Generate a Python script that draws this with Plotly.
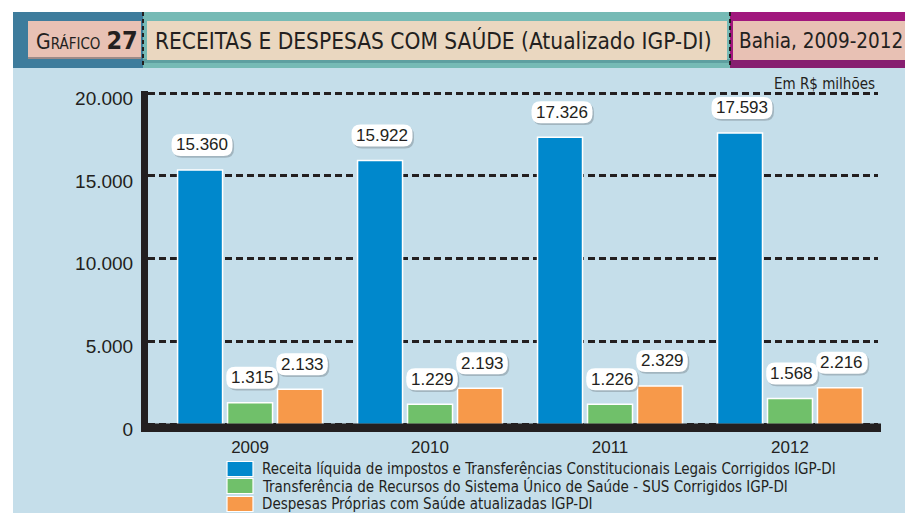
import plotly.graph_objects as go

years = ["2009", "2010", "2011", "2012"]
receita = [15360, 15922, 17326, 17593]
transferencia = [1315, 1229, 1226, 1568]
despesas = [2133, 2193, 2329, 2216]
series_names = [
    "Receita líquida de impostos e Transferências Constitucionais Legais Corrigidos IGP-DI",
    "Transferência de Recursos do Sistema Único de Saúde - SUS Corrigidos IGP-DI",
    "Despesas Próprias com Saúde atualizadas IGP-DI",
]
colors = ["#0088CC", "#70C06A", "#F7994A"]
y_ticks = [0, 5000, 10000, 15000, 20000]
y_ticktext = ["0", "5.000", "10.000", "15.000", "20.000"]

COND = "Liberation Sans Narrow, DejaVu Sans Condensed, Arial Narrow, sans-serif"
SANS = "Liberation Sans, Arial, sans-serif"
INK = "#231F20"

# page offset (browser body margin) and plot-area frame in screen pixels
OFF = 8
FW, FH = 913 - OFF, 513 - OFF
L, R, T, B = 148, 878, 91, 432
W, H = R - L, B - T
def px(x): return (x - L) / W
def py(y): return (B - y) / H

def fmt(v):
    return f"{v:,}".replace(",", ".")

def pill(x0, y0, x1, y1, r):
    return (f"M{x0+r},{y0} L{x1-r},{y0} Q{x1},{y0} {x1},{y0+r} L{x1},{y1-r} Q{x1},{y1} {x1-r},{y1} "
            f"L{x0+r},{y1} Q{x0},{y1} {x0},{y1-r} L{x0},{y0+r} Q{x0},{y0} {x0+r},{y0} Z")

fig = go.Figure()
for name, vals, col in zip(series_names, [receita, transferencia, despesas], colors):
    fig.add_trace(go.Bar(x=years, y=vals, name=name,
                         marker=dict(color=col, line=dict(color="white", width=1.5)),
                         showlegend=False, hoverinfo="y"))

annotations = []
shapes = []
shifts = [-50, 0, 50]
LBL_Y = 25
for vals, sh in zip([receita, transferencia, despesas], shifts):
    for i, v in enumerate(vals):
        t = fmt(v)
        w = 9.45 * sum(c.isdigit() for c in t) + 4.7 * t.count(".") + 9
        cx = sh + 2
        for dx, dy, fc in ((1.5, -1.8, "rgba(120,130,140,0.45)"), (0, 0, "white")):
            shapes.append(dict(type="path", xref="x", yref="y", xsizemode="pixel", ysizemode="pixel",
                               xanchor=i, yanchor=v,
                               path=pill(cx - w / 2 + dx, LBL_Y - 11 + dy, cx + w / 2 + dx, LBL_Y + 11 + dy, 9),
                               fillcolor=fc, line=dict(width=0), layer="above"))
        annotations.append(dict(x=i, y=v, xref="x", yref="y", text=t, showarrow=False,
                                xshift=cx, yshift=LBL_Y, yanchor="middle",
                                font=dict(family=SANS, size=17, color=INK)))

def rect(x0, y0, x1, y1, color, layer="below"):
    shapes.append(dict(type="rect", xref="paper", yref="paper", x0=px(x0), x1=px(x1), y0=py(y1), y1=py(y0),
                       fillcolor=color, line=dict(width=0), layer=layer))

# background panel and header
rect(13, 68, 913, 513, "#C5DEEA")
rect(13, 12, 143, 68, "#3E7C9C")
rect(143, 12, 730, 68, "#76BAB5")
rect(143, 59, 730, 63, "#5E9FA0")
rect(730, 12, 913, 68, "#A1177D")
rect(730, 60, 913, 68, "#861E70")
rect(28, 21, 141, 58, "#E8C1B4")
rect(28, 57, 141, 59, "#9C8A88")
rect(147, 21, 727, 60, "#EAD7C0")
rect(733, 21, 911, 60, "#E8C1B4")
for xx in (143, 730):
    shapes.append(dict(type="line", xref="paper", yref="paper", x0=px(xx), x1=px(xx), y0=py(12), y1=py(68),
                       line=dict(color=INK, width=2, dash="4px,3px"), layer="above"))
# bottom axis bar
rect(142, 423.5, 881, 432, INK, layer="above")

# legend (manual)
leg_y = [469, 486, 504]
for name, col, yy in zip(series_names, colors, leg_y):
    rect(227, yy - 7.5, 253, yy + 7.5, col, layer="above")
    shapes.append(dict(type="rect", xref="paper", yref="paper", x0=px(227), x1=px(253), y0=py(yy + 7.5), y1=py(yy - 7.5),
                       line=dict(color="white", width=1.2), fillcolor="rgba(0,0,0,0)", layer="above"))
    annotations.append(dict(x=px(260), y=py(yy), xref="paper", yref="paper", text=name, showarrow=False,
                            xanchor="left", yanchor="middle", font=dict(family=COND, size=15, color=INK)))

# header texts
annotations.append(dict(x=px(34), y=py(41), xref="paper", yref="paper", showarrow=False, xanchor="left", yanchor="middle",
                        text="G<span style='font-size:15px'>RÁFICO</span> <b><span style='font-size:25px'>27</span></b>",
                        font=dict(family=COND, size=21, color=INK)))
annotations.append(dict(x=px(153), y=py(41), xref="paper", yref="paper", showarrow=False, xanchor="left", yanchor="middle",
                        text="RECEITAS E DESPESAS COM SAÚDE (Atualizado IGP-DI)",
                        font=dict(family=COND, size=22.5, color=INK)))
annotations.append(dict(x=px(737), y=py(41), xref="paper", yref="paper", showarrow=False, xanchor="left", yanchor="middle",
                        text="Bahia, 2009-2012", font=dict(family=COND, size=20.5, color=INK)))
annotations.append(dict(x=px(877), y=py(84), xref="paper", yref="paper", showarrow=False, xanchor="right", yanchor="middle",
                        text="Em R$ milhões", font=dict(family=COND, size=15, color=INK)))

scale = (424.5 - 93) / 20000.0
ymin = -(B - 424.5) / scale
ymax = 20000 + (93 - T) / scale

fig.update_layout(
    width=FW, height=FH,
    margin=dict(l=L - OFF, r=FW - (R - OFF), t=T - OFF, b=FH - (B - OFF), pad=0),
    paper_bgcolor="white", plot_bgcolor="rgba(0,0,0,0)",
    barmode="group", bargap=0.167, bargroupgap=0.1,
    shapes=shapes, annotations=annotations,
    xaxis=dict(type="category", range=[-0.567, 3.489], showgrid=False, showline=False, zeroline=False,
               ticks="", tickfont=dict(family=SANS, size=17, color=INK), ticklabelstandoff=3),
    yaxis=dict(range=[ymin, ymax], tickvals=y_ticks, ticktext=y_ticktext, showgrid=True,
               gridcolor=INK, griddash="7px,4px", gridwidth=2.5, zeroline=False,
               showline=True, linecolor=INK, linewidth=7, ticks="",
               tickfont=dict(family=SANS, size=19, color=INK), ticklabelstandoff=4, ticklabelshift=5),
    showlegend=False,
)

fig.write_html("out.html")
